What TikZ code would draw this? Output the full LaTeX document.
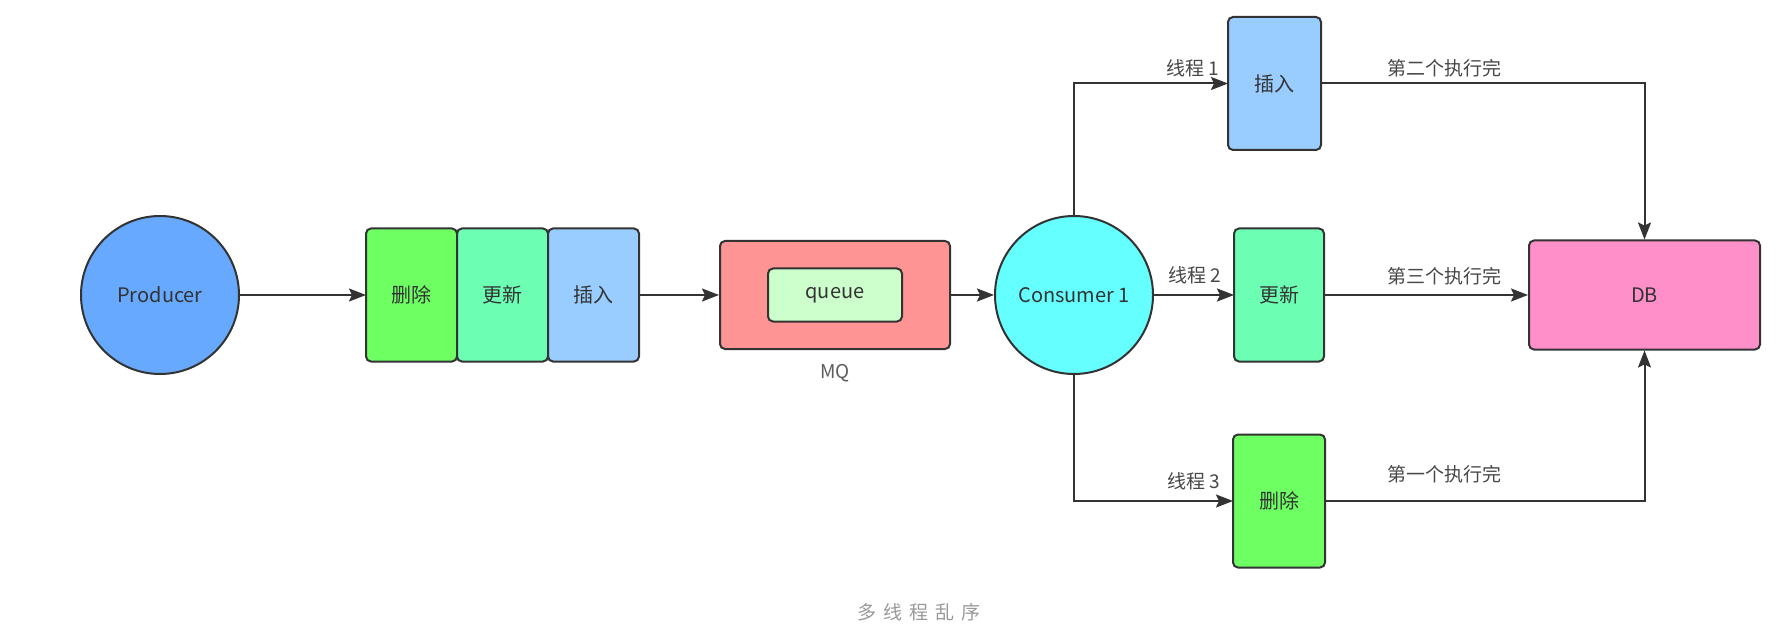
\documentclass[tikz,border=0pt]{standalone}
\usepackage{fontspec}
\setmainfont{Noto Sans CJK SC}
\usetikzlibrary{positioning, arrows.meta}
\definecolor{Dark}{HTML}{333333}
\definecolor{CapGray}{HTML}{999999}
\definecolor{ProdBlue}{HTML}{66A9FF}
\definecolor{DelGreen}{HTML}{6EFF62}
\definecolor{UpdMint}{HTML}{6CFFB4}
\definecolor{InsBlue}{HTML}{99CCFF}
\definecolor{MQRed}{HTML}{FF9494}
\definecolor{QueueGreen}{HTML}{CCFFCC}
\definecolor{ConsCyan}{HTML}{66FFFF}
\definecolor{DBPink}{HTML}{FF8FC8}
\tikzset{
    roundnode/.style={circle, draw=Dark, line width=2pt, minimum size=158pt, inner sep=0pt, text=Dark},
    opnode/.style={rectangle, rounded corners=5pt, draw=Dark, line width=2pt, minimum width=91pt, minimum height=133pt, inner sep=0pt, outer sep=0pt, text=Dark},
    boxnode/.style={rectangle, rounded corners=5pt, draw=Dark, line width=2pt, inner sep=0pt, text=Dark},
    arrow/.style={-{Stealth[length=17pt, width=13pt, inset=3pt]}, line width=2pt, color=Dark},
    lbl/.style={font=\fontsize{19}{22}\selectfont, text=Dark!90, inner sep=0pt},
}
\begin{document}
\begin{tikzpicture}[x=1pt, y=-1pt, font=\fontsize{20}{24}\selectfont]
    \useasboundingbox (0,0) rectangle (1790,644);

    % Producer e messaggi
    \node[roundnode, fill=ProdBlue] (prod) at (160,295) {Producer};
    \node[opnode, fill=DelGreen] (msgdel) at (411.5,295) {删除};
    \node[opnode, fill=UpdMint, right=0pt of msgdel] (msgupd) {更新};
    \node[opnode, fill=InsBlue, right=0pt of msgupd] (msgins) {插入};

    % MQ
    \node[boxnode, fill=MQRed, minimum width=230pt, minimum height=108pt] (mq) at (835,295) {};
    \node[boxnode, fill=QueueGreen, minimum width=134pt, minimum height=53pt] (queue) at (mq.center) {queue};
    \node[lbl, text=Dark!80, below=14pt of mq] (mqlbl) {MQ};

    % Consumer e thread
    \node[roundnode, fill=ConsCyan] (cons) at (1074,295) {Consumer 1};
    \node[opnode, fill=InsBlue, minimum width=93pt] (thins) at (1274.5,83.5) {插入};
    \node[opnode, fill=UpdMint, minimum width=90pt] (thupd) at (1279,295) {更新};
    \node[opnode, fill=DelGreen, minimum width=92pt] (thdel) at (1279,501) {删除};

    % DB
    \node[boxnode, fill=DBPink, minimum width=231pt, minimum height=109pt] (db) at (1644.5,295) {DB};

    % Frecce
    \draw[arrow] (prod) -- (msgdel);
    \draw[arrow] (msgins) -- (mq);
    \draw[arrow] (mq) -- (cons);
    \draw[arrow] (cons.north) |- (thins.west);
    \draw[arrow] (cons) -- (thupd);
    \draw[arrow] (cons.south) |- (thdel.west);
    \draw[arrow] (thins.east) -| (db.north);
    \draw[arrow] (thupd) -- (db);
    \draw[arrow] (thdel.east) -| (db.south);

    % Etichette
    \node[lbl] (t1lbl) at (1193,68) {线程 1};
    \node[lbl] (t2lbl) at (1195,275) {线程 2};
    \node[lbl] (t3lbl) at (1194,481) {线程 3};
    \node[lbl] (done2) at (1444,68) {第二个执行完};
    \node[lbl] (done3) at (1444,276) {第三个执行完};
    \node[lbl] (done1) at (1444,474) {第一个执行完};

    % Didascalia
    \node[font=\fontsize{19}{22}\selectfont, text=CapGray] (caption) at (919,612) {多\hspace{7pt}线\hspace{7pt}程\hspace{7pt}乱\hspace{7pt}序};
\end{tikzpicture}
\end{document}
